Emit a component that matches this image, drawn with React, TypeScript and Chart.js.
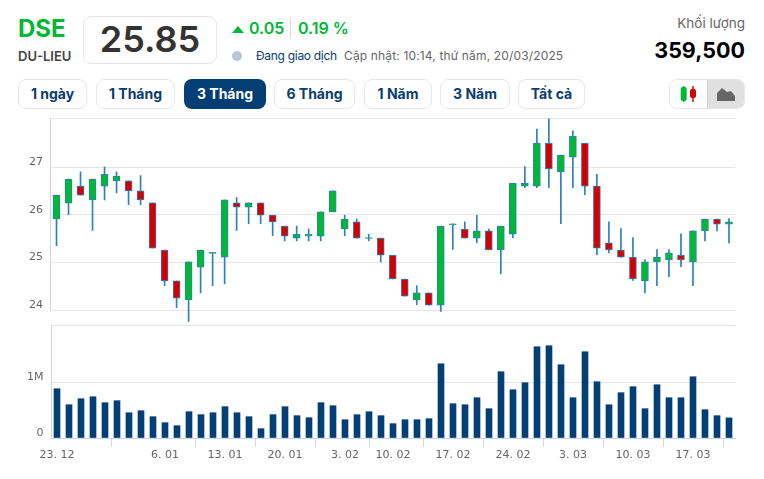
import React, { useEffect, useRef } from 'react'
import { Chart, registerables } from 'chart.js'

Chart.register(...registerables)

const opens = [
  25.91, 26.24, 26.6, 26.31, 26.6, 26.71, 26.71, 26.5, 26.25, 25.26, 24.61, 24.21, 24.9, 25.19, 25.11, 26.25, 26.16, 26.25, 25.99,
  25.76, 25.51, 25.55, 25.55, 26.06, 25.7, 25.85, 25.5, 25.51, 25.15, 24.65, 24.21, 24.36, 24.1, 25.79, 25.7, 25.51, 25.66, 25.26,
  25.59, 26.6, 26.6, 27.5, 26.9, 27.21, 27.5, 26.6, 25.41, 25.26, 25.11, 24.61, 25.01, 25.05, 25.15, 25.01, 25.66, 25.91, 25.8,
]
const highs = [
  26.41, 26.75, 26.9, 26.75, 27.0, 26.9, 26.71, 26.82, 26.25, 25.26, 24.61, 25.01, 25.26, 25.21, 26.31, 26.36, 26.25, 26.25, 25.99,
  25.76, 25.76, 25.7, 26.06, 26.5, 25.99, 25.91, 25.59, 25.51, 25.15, 24.65, 24.51, 24.36, 25.76, 25.81, 25.85, 25.99, 25.7, 25.76,
  26.66, 27.01, 27.8, 28.01, 27.25, 27.76, 27.5, 26.85, 25.85, 25.71, 25.52, 25.06, 25.27, 25.27, 25.6, 25.66, 25.91, 25.91, 25.92,
]
const lows = [
  25.35, 26.0, 26.41, 25.67, 26.31, 26.46, 26.21, 26.21, 25.3, 24.51, 24.05, 23.76, 24.36, 24.51, 24.55, 25.67, 25.81, 25.81, 25.56,
  25.45, 25.45, 25.45, 25.45, 26.06, 25.56, 25.51, 25.45, 25.01, 24.65, 24.29, 24.11, 24.1, 23.97, 25.27, 25.51, 25.41, 25.26, 24.76,
  25.52, 26.57, 26.57, 26.57, 25.81, 26.57, 26.42, 25.16, 25.2, 25.11, 24.62, 24.36, 24.51, 24.7, 24.91, 24.51, 25.45, 25.66, 25.41,
]
const closes = [
  26.41, 26.75, 26.41, 26.75, 26.85, 26.81, 26.5, 26.31, 25.3, 24.61, 24.25, 25.01, 25.26, 25.21, 26.31, 26.16, 26.25, 25.99, 25.85,
  25.55, 25.59, 25.59, 26.06, 26.5, 25.91, 25.51, 25.52, 25.15, 24.65, 24.29, 24.36, 24.1, 25.76, 25.81, 25.51, 25.66, 25.26, 25.76,
  26.66, 26.66, 27.5, 26.96, 27.25, 27.65, 26.6, 25.3, 25.26, 25.11, 24.65, 25.01, 25.11, 25.2, 25.05, 25.66, 25.91, 25.8, 25.85,
]
const volumes = [
  881000, 595000, 702000, 738000, 631000, 667000, 452000, 488000, 381000, 274000, 220000, 470000, 417000, 452000, 560000, 452000,
  381000, 167000, 417000, 560000, 399000, 363000, 631000, 577000, 327000, 417000, 470000, 399000, 256000, 327000, 327000, 345000,
  1327000, 613000, 595000, 720000, 524000, 1185000, 863000, 988000, 1631000, 1649000, 1310000, 720000, 1542000, 1006000, 595000,
  810000, 917000, 524000, 952000, 720000, 720000, 1095000, 506000, 399000, 359500,
]

const tickIndexes = [0, 9, 14, 19, 24, 28, 33, 38, 43, 48, 53]
const tickLabels = ['23. 12', '6. 01', '13. 01', '20. 01', '3. 02', '10. 02', '17. 02', '24. 02', '3. 03', '10. 03', '17. 03']
const priceTicks = [24, 25, 26, 27, 28.03]
const volumeTicks = [0, 1000000, 2020000]
const ranges = ['1 ngày', '1 Tháng', '3 Tháng', '6 Tháng', '1 Năm', '3 Năm', 'Tất cả']

const GREEN = '#00b833'
const RED = '#d40000'
const WICK = '#2b80c0'
const NAVY = '#033f74'
const GRID = '#e6e6e6'
const AXIS = '#ccd6eb'
const AXIS_FONT = { family: '"DejaVu Sans"', size: 11 }
const UI_FONT = 'Inter, sans-serif'

const categories = opens.map((_, i) => {
  const at = tickIndexes.indexOf(i)
  return at < 0 ? '' : tickLabels[at]
})

const makeYScale = (min: number, ticks: number[], width: number, label: (v: number) => string) => ({
  min,
  max: ticks[ticks.length - 1],
  afterBuildTicks: (scale: any) => {
    scale.ticks = ticks.map((value) => ({ value }))
  },
  afterFit: (scale: any) => {
    scale.width = width
  },
  grid: { color: GRID, drawTicks: false },
  border: { color: AXIS },
  ticks: {
    padding: 7.5,
    labelOffset: -5,
    color: '#666666',
    font: AXIS_FONT,
    callback: (v: any) => label(Number(v)),
  },
})

const App = () => {
  const priceRef = useRef<HTMLCanvasElement>(null)
  const volumeRef = useRef<HTMLCanvasElement>(null)

  useEffect(() => {
    if (!priceRef.current || !volumeRef.current) return

    const priceChart = new Chart(priceRef.current, {
      type: 'bar',
      data: {
        labels: categories,
        datasets: [
          {
            // body of the candle
            data: opens.map((o, i) => [o, closes[i]]),
            backgroundColor: opens.map((o, i) => (closes[i] >= o ? GREEN : RED)),
            borderColor: WICK,
            borderWidth: 1,
            borderSkipped: false,
            barThickness: 7,
            grouped: false,
            order: 1,
            clip: false,
          },
          {
            // high - low wick
            data: lows.map((l, i) => [l, highs[i]]),
            backgroundColor: WICK,
            borderWidth: 0,
            barThickness: 1,
            grouped: false,
            order: 2,
            clip: false,
          },
        ] as any,
      },
      options: {
        animation: false,
        responsive: false,
        layout: { padding: { top: 18, right: 29, bottom: 30, left: 0 } },
        plugins: { legend: { display: false }, tooltip: { enabled: false } },
        scales: {
          x: { display: false },
          y: makeYScale(24, priceTicks, 50.5, (v) => (v === 28.03 ? '' : String(v))),
        },
      },
    })

    const volumeChart = new Chart(volumeRef.current, {
      type: 'bar',
      data: {
        labels: categories,
        datasets: [{ data: volumes, backgroundColor: NAVY, barThickness: 6 }],
      },
      options: {
        animation: false,
        responsive: false,
        layout: { padding: { top: 25, right: 29, bottom: 0, left: 0 } },
        plugins: { legend: { display: false }, tooltip: { enabled: false } },
        scales: {
          x: {
            afterBuildTicks: (scale: any) => {
              scale.ticks = scale.ticks.filter((t: any) => tickIndexes.includes(t.value))
            },
            afterFit: (scale: any) => {
              scale.height = 37
            },
            grid: { drawOnChartArea: false, color: AXIS, tickLength: 9 },
            border: { color: AXIS },
            ticks: { autoSkip: false, maxRotation: 0, padding: 2, color: '#666666', font: AXIS_FONT },
          },
          y: makeYScale(0, volumeTicks, 51, (v) => (v === 1000000 ? '1M' : v === 0 ? '0' : '')),
        },
      },
    })

    return () => {
      priceChart.destroy()
      volumeChart.destroy()
    }
  }, [])

  const text = (s: string, left: number, top: number, size: number, weight: number, color: string, spacing = 0) => (
    <div style={{ position: 'absolute', left, top, fontSize: size, fontWeight: weight, color, lineHeight: 1, whiteSpace: 'nowrap', letterSpacing: spacing }}>{s}</div>
  )

  const rangeLefts = [18, 96, 184, 274, 364, 440, 518]
  const rangeWidths = [69, 79, 82, 81, 68, 70, 67]

  return (
    <div style={{ position: 'absolute', left: 0, top: 0, width: 764, height: 479, background: '#fff', overflow: 'hidden', fontFamily: UI_FONT }}>
      {text('DSE', 18, 17, 24, 700, '#00b833')}
      {text('DU-LIEU', 18, 50, 13, 600, '#444444')}
      <div style={{ position: 'absolute', left: 83, top: 16, width: 134, height: 48, boxSizing: 'border-box', border: '1px solid #e6e6e6', borderRadius: 8, textAlign: 'center', fontSize: 36, fontWeight: 600, color: '#333333', lineHeight: '45px' }}>
        25.85
      </div>
      <div style={{ position: 'absolute', left: 232, top: 26, width: 0, height: 0, borderLeft: '6px solid transparent', borderRight: '6px solid transparent', borderBottom: '7px solid #00b833' }} />
      {text('0.05', 249, 20, 16, 600, '#00b833')}
      <div style={{ position: 'absolute', left: 290, top: 18, width: 1, height: 20, background: '#d9d9d9' }} />
      {text('0.19 %', 298, 20, 16, 600, '#00b833')}
      <div style={{ position: 'absolute', left: 232, top: 51, width: 10, height: 10, borderRadius: 5, background: '#b7c7da' }} />
      {text('Đang giao dịch', 256, 50, 12, 400, '#0a3d6e', -0.3)}
      {text('Cập nhật: 10:14, thứ năm, 20/03/2025', 344, 50, 12, 400, '#666666', 0.15)}
      <div style={{ position: 'absolute', right: 19, top: 17, fontSize: 13.5, color: '#666666', lineHeight: 1, whiteSpace: 'nowrap' }}>Khối lượng</div>
      <div style={{ position: 'absolute', right: 19, top: 40, fontSize: 21.5, fontWeight: 700, color: '#000000', lineHeight: 1, whiteSpace: 'nowrap' }}>359,500</div>

      {ranges.map((r, i) => (
        <div
          key={r}
          style={{
            position: 'absolute',
            left: rangeLefts[i],
            top: 79,
            width: rangeWidths[i],
            height: 30,
            boxSizing: 'border-box',
            border: i === 2 ? 'none' : '1px solid #e6e6e6',
            borderRadius: 8,
            background: i === 2 ? NAVY : '#fff',
            color: i === 2 ? '#fff' : '#0a3d6e',
            fontSize: 14,
            fontWeight: 700,
            lineHeight: i === 2 ? '30px' : '28px',
            textAlign: 'center',
          }}
        >
          {r}
        </div>
      ))}

      <div style={{ position: 'absolute', left: 669, top: 79, width: 76, height: 30, boxSizing: 'border-box', border: '1px solid #e6e6e6', borderRadius: 8, overflow: 'hidden' }}>
        <div style={{ position: 'absolute', left: 37, top: 0, width: 38, height: 28, background: '#e0e0e0', borderLeft: '1px solid #cfcfcf' }} />
        <svg width="74" height="28" style={{ position: 'absolute', left: 0, top: 0 }}>
          <rect x="13" y="6" width="1.4" height="16" fill={GREEN} />
          <rect x="10.7" y="7" width="6" height="14" rx="2" fill={GREEN} />
          <rect x="22.3" y="6" width="1.4" height="16" fill={RED} />
          <rect x="20" y="9" width="6" height="9" rx="2" fill={RED} />
          <path d="M47 21 V13 L52 8 L57 12 L61 11 L65 16 V21 Z" fill="#666666" />
        </svg>
      </div>

      <canvas ref={priceRef} width={764} height={240} style={{ position: 'absolute', left: 0, top: 100, width: 764, height: 240 }} />
      <canvas ref={volumeRef} width={764} height={175} style={{ position: 'absolute', left: 0, top: 300, width: 764, height: 175 }} />
    </div>
  )
}

export default App
